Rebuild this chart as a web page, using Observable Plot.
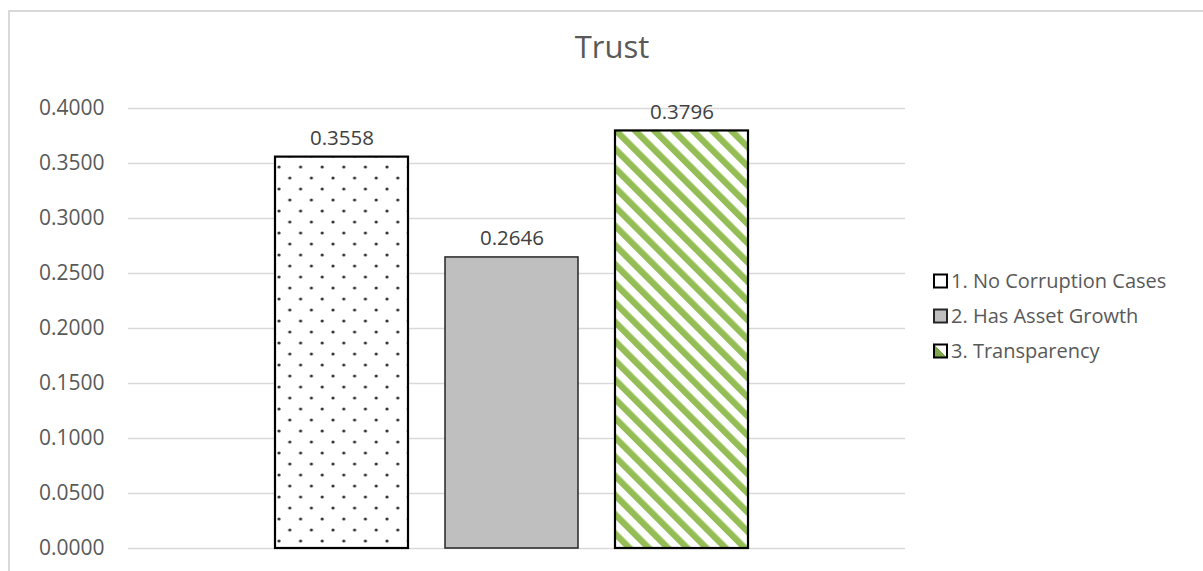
<!DOCTYPE html>
<html>
<head>
<meta charset="utf-8">
<script src="https://cdn.jsdelivr.net/npm/d3@7"></script>
<script src="https://cdn.jsdelivr.net/npm/@observablehq/plot@0.6"></script>
<style>
  html, body { margin: 0; padding: 0; background: #fff; overflow: hidden; }
  #wrap { position: relative; width: 1203px; height: 571px; }
  #frame { position: absolute; left: 8px; top: 10px; width: 1300px; height: 700px;
           border-top: 2px solid #D9D9D9; border-left: 2px solid #D9D9D9; box-sizing: border-box; }
  #chart { position: absolute; left: 0; top: 0; }
</style>
</head>
<body>
<div id="wrap"><div id="frame"></div><div id="chart"></div></div>
<script>
const title = "Trust";
const series = ["1. No Corruption Cases", "2. Has Asset Growth", "3. Transparency"];
const values = [0.3558, 0.2646, 0.3796];
const yTicks = [0, 0.05, 0.10, 0.15, 0.20, 0.25, 0.30, 0.35, 0.40];

const data = series.map((s, i) => ({series: s, value: values[i]}));

const fills = {
  "1. No Corruption Cases": "url(#dots)",
  "2. Has Asset Growth": "#BFBFBF",
  "3. Transparency": "url(#stripes)"
};
const strokes = {
  "1. No Corruption Cases": "#000000",
  "2. Has Asset Growth": "#262626",
  "3. Transparency": "#000000"
};
const font = "'Open Sans', 'DejaVu Sans', sans-serif";

const chart = Plot.plot({
  width: 1203,
  height: 571,
  marginLeft: 128,
  marginRight: 298,
  marginTop: 108,
  marginBottom: 23,
  style: {fontFamily: font, background: "transparent", overflow: "visible"},
  x: {domain: series, range: [275, 748], paddingInner: 0.218, paddingOuter: 0, axis: null},
  y: {domain: [0, 0.4]},
  color: {type: "identity"},
  marks: [
    Plot.ruleY(yTicks, {stroke: "#D9D9D9", strokeWidth: 1.5}),
    Plot.axisY({ticks: yTicks, tickFormat: d3.format(".4f"), tickSize: 0, tickPadding: 24,
                fontSize: 21, fill: "#595959", label: null}),
    Plot.barY(data, {x: "series", y: "value",
      fill: d => fills[d.series], stroke: d => strokes[d.series],
      strokeWidth: d => d.series === series[1] ? 1.5 : 2.2}),
    Plot.text(data, {x: "series", y: "value", text: d => d3.format(".4f")(d.value),
      lineAnchor: "bottom", dy: -12, fontSize: 20.5, fill: "#404040"}),
    Plot.text([title], {frameAnchor: "top", dx: 95, dy: -51, text: d => d,
      fontSize: 31, fill: "#595959", lineAnchor: "bottom"})
  ]
});

// pattern defs
const svg = d3.select(chart);
const defs = svg.insert("defs", ":first-child");
const dots = defs.append("pattern").attr("id", "dots").attr("patternUnits", "userSpaceOnUse")
  .attr("x", 275).attr("y", 156)
  .attr("width", 21.6).attr("height", 22);
dots.append("rect").attr("width", 21.6).attr("height", 22).attr("fill", "#fff");
dots.append("circle").attr("cx", 4).attr("cy", 11).attr("r", 1.6).attr("fill", "#333");
dots.append("circle").attr("cx", 14.8).attr("cy", 0).attr("r", 1.6).attr("fill", "#333");
dots.append("circle").attr("cx", 14.8).attr("cy", 22).attr("r", 1.6).attr("fill", "#333");
const stripes = defs.append("pattern").attr("id", "stripes").attr("patternUnits", "userSpaceOnUse")
  .attr("width", 13.6).attr("height", 13.6).attr("patternTransform", "rotate(-45)");
stripes.append("rect").attr("width", 13.6).attr("height", 13.6).attr("fill", "#fff");
stripes.append("rect").attr("width", 6.4).attr("height", 13.6).attr("fill", "#95BD55");
const sw = defs.append("linearGradient").attr("id", "swg").attr("x1", 0).attr("y1", 1).attr("x2", 1).attr("y2", 0);
sw.append("stop").attr("offset", "50%").attr("stop-color", "#7FA84A");
sw.append("stop").attr("offset", "50%").attr("stop-color", "#fff");

// legend
const legendFills = {
  "1. No Corruption Cases": "#fff",
  "2. Has Asset Growth": "#BFBFBF",
  "3. Transparency": "url(#swg)"
};
const lg = svg.append("g").attr("font-family", font).attr("font-size", 20)
  .attr("fill", "#595959").attr("text-anchor", "start");
series.forEach((s, i) => {
  const cy = 281 + i * 35;
  lg.append("rect").attr("x", 934).attr("y", cy - 6.5).attr("width", 13).attr("height", 13)
    .attr("fill", legendFills[s]).attr("stroke", i === 1 ? "#262626" : "#000").attr("stroke-width", 2);
  lg.append("text").attr("x", 951).attr("y", cy).attr("dy", "0.36em").text(s);
});

document.getElementById("chart").appendChild(chart);
</script>
</body>
</html>
